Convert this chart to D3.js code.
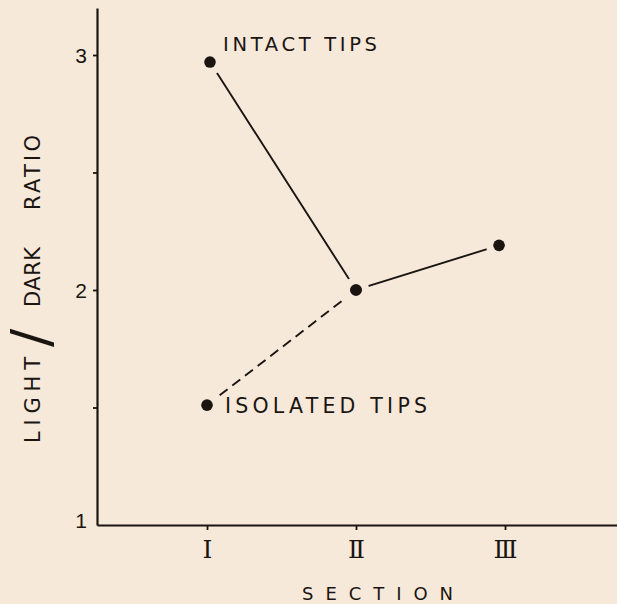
<!DOCTYPE html>
<html><head><meta charset="utf-8">
<script src="https://cdn.jsdelivr.net/npm/d3@7"></script>
<style>html,body{margin:0;padding:0;background:#f6e9da;} svg{display:block}</style>
</head><body>
<script>
// ---- data ----
const sectionLabels = ["Ⅰ", "Ⅱ", "Ⅲ"];
const sectionValues = [1, 2, 3];
const yTickValues = [1, 1.5, 2, 2.5, 3];
const yTickLabels = ["1", "", "2", "", "3"];
const intactX = [1.02, 2.0, 2.96];
const intactY = [2.97, 2.0, 2.19];
const isolatedX = [1.0, 2.0];
const isolatedY = [1.51, 2.0];
const seriesNames = ["INTACT TIPS", "ISOLATED TIPS"];
const xTitle = "SECTION";
const yTitleParts = ["LIGHT", "/", "DARK", "RATIO"];

// ---- layout ----
const W = 617, H = 604;
const bg = "#f6e9da", ink = "#1b1511";
const svg = d3.select("body").append("svg").attr("width", W).attr("height", H);
svg.append("rect").attr("width", W).attr("height", H).attr("fill", bg);

const x = d3.scaleLinear().domain([1, 3]).range([207, 505]);
x.domain([x.invert(97), x.invert(617)]).range([97, 617]);
const y = d3.scaleLinear().domain([1, 3.2]).range([525, 8]);

const font = "'DejaVu Sans', sans-serif";

// y axis
const yAxis = d3.axisLeft(y).tickValues(yTickValues)
  .tickFormat((d, i) => yTickLabels[i]).tickSize(4).tickPadding(6).tickSizeOuter(0);
const gy = svg.append("g").attr("transform", "translate(97,0)").call(yAxis);
gy.select(".domain").attr("stroke", ink).attr("stroke-width", 2.2);
gy.selectAll(".tick line").attr("stroke", ink).attr("stroke-width", 1.8)
  .filter(d => d === 1).remove();
gy.selectAll(".tick text").attr("fill", ink).style("font-family", "'Liberation Sans', sans-serif")
  .style("font-size", "21px").attr("dy", "0.36em");
gy.selectAll(".tick text").filter(d => d === 1).attr("dy", "0.1em");

// x axis
const xAxis = d3.axisBottom(x).tickValues(sectionValues)
  .tickFormat((d, i) => sectionLabels[i]).tickSize(5).tickPadding(10).tickSizeOuter(0);
const gx = svg.append("g").attr("transform", "translate(0,525)").call(xAxis);
gx.select(".domain").attr("stroke", ink).attr("stroke-width", 2.2);
gx.selectAll(".tick line").attr("stroke", ink).attr("stroke-width", 1.8);
gx.selectAll(".tick text").attr("fill", ink).style("font-family", "'DejaVu Serif', serif")
  .style("font-size", "25px");

// lines
const intact = intactX.map((v, i) => [v, intactY[i]]);
const isolated = isolatedX.map((v, i) => [v, isolatedY[i]]);
const line = d3.line().x(d => x(d[0])).y(d => y(d[1]));
svg.append("path").datum(intact).attr("d", line).attr("fill", "none")
  .attr("stroke", ink).attr("stroke-width", 1.9);
svg.append("path").datum(isolated).attr("d", line).attr("fill", "none")
  .attr("stroke", ink).attr("stroke-width", 1.9).attr("stroke-dasharray", "10,6");

// halos and dots
const pts = intact.concat(isolated);
svg.selectAll("circle.halo").data(pts).join("circle").attr("class", "halo")
  .attr("cx", d => x(d[0])).attr("cy", d => y(d[1])).attr("r", 13).attr("fill", bg);
svg.selectAll("circle.dot").data(pts).join("circle").attr("class", "dot")
  .attr("cx", d => x(d[0])).attr("cy", d => y(d[1])).attr("r", 5.8).attr("fill", ink);

// series labels
svg.append("text").attr("x", 223).attr("y", 51).text(seriesNames[0])
  .attr("fill", ink).style("font-family", font).style("font-size", "19.5px")
  .attr("textLength", 154).attr("lengthAdjust", "spacing");
svg.append("text").attr("x", 225).attr("y", 413).text(seriesNames[1])
  .attr("fill", ink).style("font-family", font).style("font-size", "20.5px")
  .attr("textLength", 202).attr("lengthAdjust", "spacing");

// x title
svg.append("text").attr("x", 302).attr("y", 600).text(xTitle)
  .attr("fill", ink).style("font-family", font).style("font-size", "18px")
  .attr("textLength", 151).attr("lengthAdjust", "spacing");

// y title parts (rotated)
const yParts = [
  {t: yTitleParts[0], y: 443, len: 86},
  {t: yTitleParts[2], y: 307, len: 60},
  {t: yTitleParts[3], y: 210, len: 75}
];
yParts.forEach(p => {
  svg.append("text").attr("transform", `translate(40,${p.y}) rotate(-90)`)
    .text(p.t).attr("fill", ink).style("font-family", font).style("font-size", "21px")
    .attr("textLength", p.len).attr("lengthAdjust", "spacing");
});
svg.append("text").attr("transform", "translate(30,338) rotate(-90)")
  .text(yTitleParts[1]).attr("fill", ink).attr("text-anchor", "middle")
  .attr("dominant-baseline", "central")
  .style("font-family", font).style("font-size", "54px");
</script>
</body></html>
